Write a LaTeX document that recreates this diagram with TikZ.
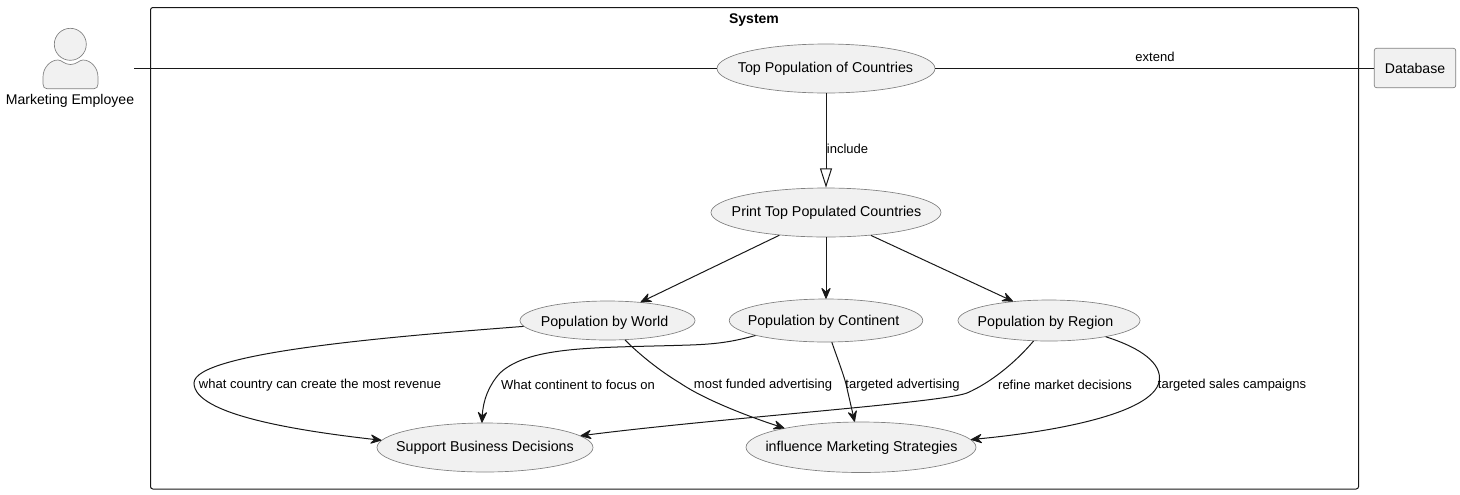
\documentclass[tikz,border=0pt]{standalone}
\usepackage{fontspec}
\setmainfont{Liberation Sans}
\usetikzlibrary{shapes.geometric,arrows.meta}
\definecolor{UmlFillColor}{RGB}{241,241,241}
\definecolor{UmlBorderColor}{RGB}{128,128,128}
\definecolor{UmlLineColor}{RGB}{24,24,24}

\begin{document}
\begin{tikzpicture}[x=0.75pt,y=-0.75pt,font=\fontsize{10.7}{12}\selectfont,
uc/.style n args={2}{ellipse,minimum width=#1*0.75pt,minimum height=#2*0.75pt,inner sep=0pt,fill=UmlFillColor,draw=UmlBorderColor,line width=0.5pt},
box/.style n args={2}{rectangle,minimum width=#1*0.75pt,minimum height=#2*0.75pt,inner sep=0pt,rounded corners=1.8pt},
lnk/.style={draw=UmlLineColor,line width=0.75pt},
arw/.style={lnk,-{Stealth[length=9.5pt,width=8pt,inset=3.5pt,round]}},
lbl/.style={inner sep=0pt,font=\fontsize{9.75}{11}\selectfont}]
\useasboundingbox (0,0) rectangle (1460,494);
\node[box={1208}{481.5},draw=UmlLineColor,line width=0.75pt](system) at(754.5,248.25) {};
\node[inner sep=0pt,font=\fontsize{10.5}{12}\selectfont\bfseries](systemTitle) at(754,20) {System};
\node[circle,minimum size=32*0.75pt,inner sep=0pt,fill=UmlFillColor,draw=UmlBorderColor,line width=0.5pt](actorHead) at(70.3,44.3) {};
\path[fill=UmlFillColor,draw=UmlBorderColor,line width=0.5pt] (47,88.7) .. controls (44.5,88.7) and (43,87) .. (43,84) -- (43,77)
   .. controls (43,68) and (50,60) .. (58,60) .. controls (62,60) and (64,64.5) .. (70.5,64.5)
   .. controls (77,64.5) and (79,60) .. (83,60) .. controls (91,60) and (98,68) .. (98,77)
   -- (98,84) .. controls (98,87) and (96.5,88.7) .. (94,88.7) -- cycle;
\node[inner sep=0pt,font=\fontsize{10.55}{12}\selectfont](actorLabel) at(70,100.5) {Marketing Employee};
\coordinate (actorEnd) at (134,68.5);
\node[box={81.5}{39.5},fill=UmlFillColor,draw=UmlBorderColor,line width=0.5pt,font=\fontsize{10.55}{12}\selectfont](database) at(1415,68) {\raisebox{-0.75pt}{Database}};
\foreach \n/\x/\y/\w/\h/\dx/\dy/\t in %
{top/826/68.5/218/49/-0.5/0/Top Population of Countries,print/826/212.5/230/49/0.5/0/Print Top Populated Countries,world/607.5/320.5/175/39/-3/2/Population by World,continent/826/320.5/193.5/43/-2.5/1/Population by Continent,region/1049/320.5/182/41/-3.5/2/Population by Region,support/485/447.5/216/49/0/0/Support Business Decisions,marketing/861/447.25/230/50.5/0.5/1/influence Marketing Strategies} {
   \node[uc={\w}{\h},label={[inner sep=0pt,xshift=\dx*0.75pt,yshift=-\dy*0.75pt]center:\t}](\n) at(\x,\y) {};
}
\draw[lnk] (actorEnd) -- (top.west |- actorEnd);
\draw[lnk] (top.east |- database.west) -- (database.west);
\draw[lnk,-{Triangle[open,length=14.5pt,width=9pt,fill=white]}] (top) -- (print);
\foreach \a/\b in {print.206/world.29.5,print/continent,print.333/region.152} {
   \draw[arw] (\a) -- (\b);
}
\coordinate (w1) at (194,383);
\coordinate (w2) at (680,383);
\coordinate (c1) at (500,373);
\coordinate (r1) at (967,393);
\coordinate (r2) at (1159.5,378);
\draw[arw] (world.184) .. controls (400,336) and (194,352) .. (w1) .. controls (194,415) and (300,431) .. (support.176);
\draw[arw] (world.312) .. controls (640,355) and (660,371) .. (w2) .. controls (705,400) and (750,417) .. (marketing.166);
\draw[arw] (continent.192) .. controls (735,341) and (720,344) .. (690,345) .. controls (600,348) and (530,345) .. (c1) .. controls (489,385) and (483,400) .. (support.97);
\draw[arw] (continent.285) .. controls (838,360) and (843,373) .. (846,384) -- (marketing.104);
\draw[arw] (region.233) .. controls (1015,363) and (990,383) .. (r1) .. controls (940,403) and (720,418) .. (support.7);
\draw[arw] (region.344) .. controls (1135,346) and (1159.5,360) .. (r2) .. controls (1159.5,412) and (1060,431) .. (marketing.4);
\foreach \n/\x/\y/\t in %
{extendLbl/1155/57/extend,includeLbl/847.5/148.5/include,worldSupLbl/320/385/what country can create the most revenue,contSupLbl/578/385/What continent to focus on,worldMktLbl/763/385/most funded advertising,contMktLbl/902.5/385/targeted advertising,regSupLbl/1065/385/refine market decisions,regMktLbl/1232/385/targeted sales campaigns} {
   \node[lbl](\n) at(\x,\y) {\t};
}
\end{tikzpicture}
\end{document}
